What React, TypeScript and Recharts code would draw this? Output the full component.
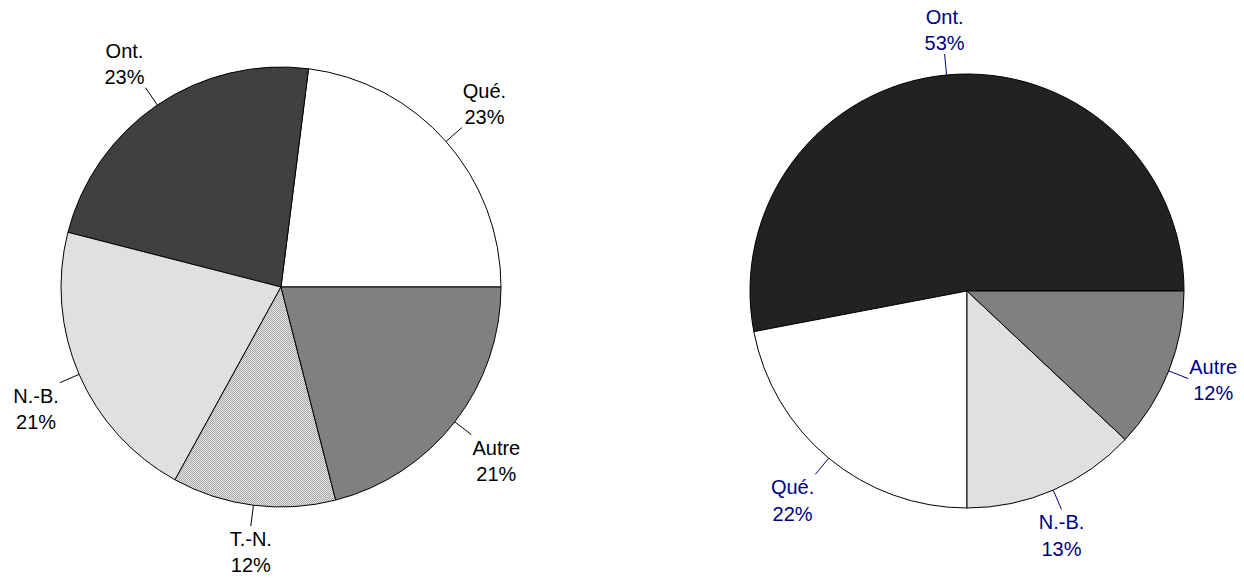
import React from 'react';
import { PieChart, Pie, Cell } from 'recharts';

const leftCategories = ['Qué.', 'Ont.', 'N.-B.', 'T.-N.', 'Autre'];
const leftValues = [23, 23, 21, 12, 21];
const leftColors = ['#ffffff', '#404040', '#e0e0e0', 'url(#dotsPattern)', '#808080'];
// label box anchoring relative to leader-line end: [horizontal, vertical] in {-1,0,1}
const leftAnchors = [[1, -1], [-1, -1], [-1, 1], [0, 1], [1, 1]];

const rightCategories = ['Ont.', 'Qué.', 'N.-B.', 'Autre'];
const rightValues = [53, 22, 13, 12];
const rightColors = ['#222222', '#ffffff', '#e0e0e0', '#808080'];
const rightAnchors = [[0, -1], [-1, 1], [0, 1], [1, 0]];

const leftData = leftCategories.map((name, i) => ({ name, value: leftValues[i] }));
const rightData = rightCategories.map((name, i) => ({ name, value: rightValues[i] }));

const RAD = Math.PI / 180;
const FONT = "'Liberation Sans', Arial, sans-serif";
const FONT_SIZE = 20;

let ctx: CanvasRenderingContext2D | null = null;
function textWidth(s: string): number {
  try {
    if (!ctx) {
      const c = document.createElement('canvas');
      ctx = c.getContext('2d');
    }
    if (ctx) {
      ctx.font = `${FONT_SIZE}px ${FONT}`;
      return ctx.measureText(s).width;
    }
  } catch (e) {
    /* ignore */
  }
  return s.length * FONT_SIZE * 0.55;
}

function makeLabel(anchors: number[][], lineLen: number, color: string) {
  return (props: any) => {
    const { cx, cy, midAngle, outerRadius, name, value, index } = props;
    const cos = Math.cos(-midAngle * RAD);
    const sin = Math.sin(-midAngle * RAD);
    const x1 = cx + outerRadius * cos;
    const y1 = cy + outerRadius * sin;
    const x2 = cx + (outerRadius + lineLen) * cos;
    const y2 = cy + (outerRadius + lineLen) * sin;
    const line2 = `${value}%`;
    const w = Math.max(textWidth(name), textWidth(line2));
    const [ax, ay] = anchors[index] || [0, 0];
    const tx = x2 + ax * (w / 2 + 1);
    const vOff = ay < 0 ? -24 : ay > 0 ? 26 : 1;
    const ty = y2 + vOff;
    return (
      <g>
        <line x1={x1} y1={y1} x2={x2} y2={y2} stroke={color} strokeWidth={1} />
        <text x={tx} y={ty - 6.1} textAnchor="middle" fill={color} fontSize={FONT_SIZE} fontFamily={FONT}>
          {name}
        </text>
        <text x={tx} y={ty + 20.4} textAnchor="middle" fill={color} fontSize={FONT_SIZE} fontFamily={FONT}>
          {line2}
        </text>
      </g>
    );
  };
}

export default function App() {
  return (
    <div style={{ position: 'absolute', left: 0, top: 0, background: '#fff' }}>
      <PieChart width={1244} height={578} margin={{ top: 0, right: 0, bottom: 0, left: 0 }}>
        <defs>
          <pattern id="dotsPattern" width="2" height="2" patternUnits="userSpaceOnUse">
            <rect x="0" y="0" width="2" height="2" fill="#e4e4e4" />
            <rect x="0" y="0" width="1" height="1" fill="#a8a8a8" />
            <rect x="1" y="1" width="1" height="1" fill="#a8a8a8" />
          </pattern>
        </defs>
        <Pie
          data={leftData}
          dataKey="value"
          nameKey="name"
          cx={281}
          cy={287}
          outerRadius={220}
          startAngle={0}
          endAngle={360}
          stroke="#000"
          strokeWidth={1}
          isAnimationActive={false}
          labelLine={false}
          label={makeLabel(leftAnchors, 21, '#000000')}
        >
          {leftData.map((d, i) => (
            <Cell key={d.name} fill={leftColors[i]} stroke="#000" />
          ))}
        </Pie>
        <Pie
          data={rightData}
          dataKey="value"
          nameKey="name"
          cx={967}
          cy={291}
          outerRadius={217}
          startAngle={0}
          endAngle={360}
          stroke="#000"
          strokeWidth={1}
          isAnimationActive={false}
          labelLine={false}
          label={makeLabel(rightAnchors, 21, '#000080')}
        >
          {rightData.map((d, i) => (
            <Cell key={d.name} fill={rightColors[i]} stroke="#000" />
          ))}
        </Pie>
      </PieChart>
    </div>
  );
}
